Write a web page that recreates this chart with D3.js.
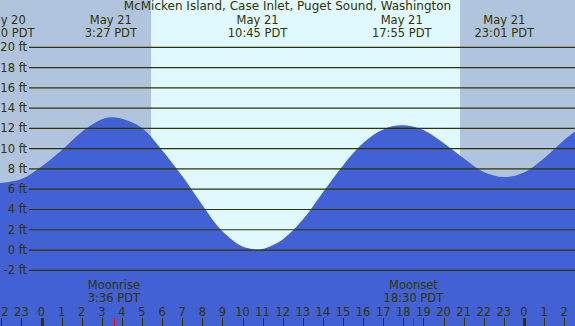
<!DOCTYPE html>
<html>
<head>
<meta charset="utf-8">
<script src="https://cdn.jsdelivr.net/npm/d3@7"></script>
<style>
    body { margin: 0; background: #fff; }
    svg { display: block; }
    text { font-family: "DejaVu Sans", sans-serif; font-size: 11.5px; fill: #333300; }
</style>
</head>
<body>
<svg></svg>
<script>
// hours are counted from May 21 00:00 PDT
var tideHours = [-2.07, -1, 0, 1, 2, 3, 3.45, 4, 5, 6, 7, 8, 9, 10, 10.75, 11, 12, 13, 14,
                 15, 16, 17, 17.92, 19, 20, 21, 22, 23.02, 24, 25, 26, 26.55];
var tideFeet = [6.6, 7.0, 8.25, 9.85, 11.65, 12.9, 13.1, 12.95, 12.05, 9.85, 7.3, 4.45, 1.85, 0.35, 0.05, 0.1, 1.05, 3.0, 5.7,
                8.35, 10.55, 11.9, 12.3, 11.85, 10.55, 9.05, 7.7, 7.2, 7.65, 9.05, 10.85, 11.7];

// high / low tide labels
var extremeHours = [-1.83, 3.45, 10.75, 17.92, 23.02];
var extremeDays = ["May 20", "May 21", "May 21", "May 21", "May 21"];
var extremeTimes = ["22:10 PDT", "3:27 PDT", "10:45 PDT", "17:55 PDT", "23:01 PDT"];

// daylight
var sunriseHour = 5.45;
var sunsetHour = 20.82;

// moon
var moonHours = [3.6, 18.5];
var moonNames = ["Moonrise", "Moonset"];
var moonTimes = ["3:36 PDT", "18:30 PDT"];

// axis ticks
var feetTicks = [-2, 0, 2, 4, 6, 8, 10, 12, 14, 16, 18, 20];
var hourTicks = d3.range(-2, 27);

var title = "McMicken Island, Case Inlet, Puget Sound, Washington";

var width = 575;
var height = 326;

var svg = d3.select("svg")
    .attr("width", width)
    .attr("height", height);

var xScale = d3.scaleLinear()
    .domain([-2.065, 26.54])
    .range([0, width]);

var yScale = d3.scaleLinear()
    .domain([-2, 20])
    .range([270.3, 47.3]);

// background: night / day
svg.append("rect")
    .attr("x", 0).attr("y", 0)
    .attr("width", width).attr("height", height)
    .attr("fill", "#b0c4de");

svg.append("rect")
    .attr("x", xScale(sunriseHour))
    .attr("y", 0)
    .attr("width", xScale(sunsetHour) - xScale(sunriseHour))
    .attr("height", height)
    .attr("fill", "#e0f8ff");

// water
var tideData = tideHours.map(function(h, i) { return {h: h, ft: tideFeet[i]}; });

var water = d3.area()
    .x(function(d) { return xScale(d.h); })
    .y0(height)
    .y1(function(d) { return yScale(d.ft); })
    .curve(d3.curveCatmullRom.alpha(0.5));

svg.append("path")
    .datum(tideData)
    .attr("d", water)
    .attr("fill", "#4161d5");

// grid lines and feet labels
var grid = svg.append("g");

grid.selectAll("line")
    .data(feetTicks)
    .enter()
    .append("line")
    .attr("x1", 29)
    .attr("x2", width)
    .attr("y1", function(d) { return yScale(d); })
    .attr("y2", function(d) { return yScale(d); })
    .attr("stroke", "#333300")
    .attr("stroke-width", 1.2);

grid.selectAll("text")
    .data(feetTicks)
    .enter()
    .append("text")
    .attr("x", 27)
    .attr("y", function(d) { return yScale(d) + 4; })
    .attr("text-anchor", "end")
    .text(function(d) { return d + " ft"; });

// title
svg.append("text")
    .attr("x", width / 2)
    .attr("y", 10)
    .attr("text-anchor", "middle")
    .style("font-size", "12px")
    .text(title);

// tide labels
var tideLabels = svg.append("g")
    .selectAll("g")
    .data(extremeHours)
    .enter()
    .append("g");

tideLabels.append("text")
    .attr("x", function(d) { return xScale(d); })
    .attr("y", 23.6)
    .attr("text-anchor", "middle")
    .text(function(d, i) { return extremeDays[i]; });

tideLabels.append("text")
    .attr("x", function(d) { return xScale(d); })
    .attr("y", 37)
    .attr("text-anchor", "middle")
    .text(function(d, i) { return extremeTimes[i]; });

// moon labels
var moonLabels = svg.append("g")
    .selectAll("g")
    .data(moonHours)
    .enter()
    .append("g");

moonLabels.append("text")
    .attr("x", function(d) { return xScale(d); })
    .attr("y", 288.5)
    .attr("text-anchor", "middle")
    .text(function(d, i) { return moonNames[i]; });

moonLabels.append("text")
    .attr("x", function(d) { return xScale(d); })
    .attr("y", 302)
    .attr("text-anchor", "middle")
    .text(function(d, i) { return moonTimes[i]; });

// hour axis
var hours = svg.append("g");

hours.selectAll("text")
    .data(hourTicks)
    .enter()
    .append("text")
    .attr("x", function(d) { return xScale(d); })
    .attr("y", 316)
    .attr("text-anchor", "middle")
    .text(function(d) { return ((d % 24) + 24) % 24; });

hours.selectAll("line.hour")
    .data(hourTicks)
    .enter()
    .append("line")
    .attr("class", "hour")
    .attr("x1", function(d) { return Math.round(xScale(d)) + 0.5; })
    .attr("x2", function(d) { return Math.round(xScale(d)) + 0.5; })
    .attr("y1", 318)
    .attr("y2", height)
    .attr("stroke", "#333300")
    .attr("stroke-width", function(d) { return d % 24 == 0 ? 3 : 1; });

hours.selectAll("line.moon")
    .data(moonHours)
    .enter()
    .append("line")
    .attr("class", "moon")
    .attr("x1", function(d) { return Math.round(xScale(d)) + 0.5; })
    .attr("x2", function(d) { return Math.round(xScale(d)) + 0.5; })
    .attr("y1", 318)
    .attr("y2", height)
    .attr("stroke", "#ff0000")
    .attr("stroke-width", 1);
</script>
</body>
</html>
